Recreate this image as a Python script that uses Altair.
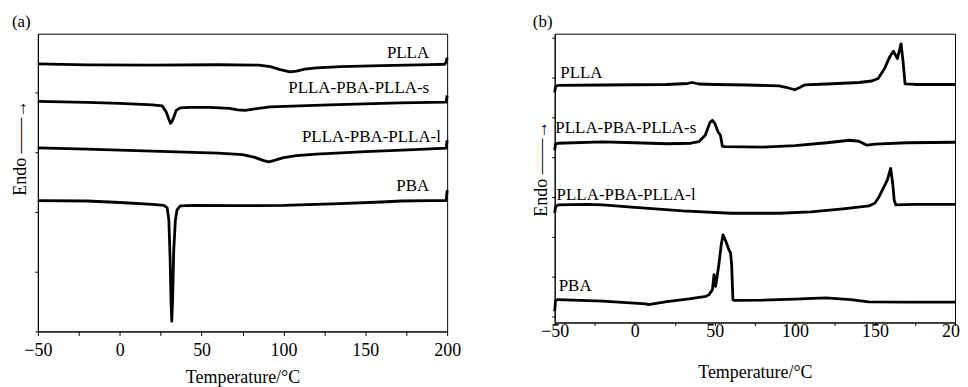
import altair as alt
import pandas as pd

FONT = "Liberation Serif"

# ---------------- Panel (a) ----------------
a_plla_T = [-50, -20, 20, 60, 85, 92, 98, 104, 108, 113, 120, 135, 160, 190, 198.5, 199.5, 200]
a_plla_v = [268.7, 267.7, 267.5, 267.8, 267.5, 266, 263, 260.7, 261.5, 263.5, 264.7, 266, 267, 268, 268.3, 271, 275]

a_s_T = [-50, -20, 0, 20, 26, 28.5, 30, 31, 32, 33, 34.5, 37, 43, 55, 67, 72, 76.5, 82.6, 91.7, 128, 171, 199.4, 200]
a_s_v = [231, 230, 229, 227.5, 226.5, 220, 213, 209, 211, 215, 222, 224.5, 225, 225, 224, 222.5, 222, 223.5, 225.5, 227.5, 229.5, 230.3, 237]

a_l_T = [-50, -20, 20, 60, 75, 82, 88, 91, 95, 100, 108, 120, 150, 180, 199.4, 200]
a_l_v = [184.3, 183, 181, 179, 177.5, 175, 171.5, 170.3, 172, 174.5, 176.5, 178, 180.5, 182.5, 184, 192]

a_pba_T = [-50, -20, 0, 20, 27, 29, 30, 30.8, 31.3, 31.8, 32.3, 33, 34, 35, 37, 45, 70, 100, 130, 160, 172, 190, 199.4, 200]
a_pba_v = [131.3, 131, 129.5, 127.5, 126.5, 124, 112, 72, 32, 10.3, 32, 82, 112, 122, 126, 126.5, 126.3, 126.5, 128, 130, 131, 131.3, 131.5, 142]

a_label_text = ["PLLA", "PLLA-PBA-PLLA-s", "PLLA-PBA-PLLA-l", "PBA"]
a_label_T = [189, 189, 196.2, 189]
a_label_v = [274.7, 239.3, 190.3, 141.3]

# ---------------- Panel (b) ----------------
b_plla_T = [-50, -49.5, -48, -20, 20, 33, 36, 40, 50, 70, 90, 96, 100, 103, 106, 120, 140, 148, 152, 156, 159, 161.5, 164, 166.3, 167.5, 168.8, 175, 200]
b_plla_v = [231, 237, 238, 238.5, 239, 240, 241, 239.5, 239, 238.5, 237.5, 235.5, 233.7, 236, 238.5, 239.5, 241, 242.5, 245, 255, 266, 272.5, 265, 279.7, 263, 239.7, 239, 239]

b_s_T = [-50, -49.5, -48, -20, 0, 20, 35, 40, 44, 47, 48.5, 50, 52, 53.5, 54.7, 56, 80, 100, 120, 134, 140, 145, 150, 170, 200]
b_s_v = [173, 179, 180, 181.3, 180.5, 179.5, 180, 181.5, 188, 201, 203, 200, 191.3, 188, 177, 176.5, 176, 177.5, 180.5, 183, 182, 178, 179, 180.5, 181]

b_l_T = [-50, -49.5, -48, -30, -20, 0, 30, 60, 90, 110, 130, 146.3, 150, 152.5, 154.6, 157.7, 159.8, 161.2, 162, 163, 175, 200]
b_l_v = [110, 116, 118, 118.5, 118, 115.5, 112, 109.7, 109.7, 111, 114, 117, 120, 126, 133, 143, 154.7, 138, 123, 118, 118.5, 118.7]

b_pba_T = [-50, -49.5, -48, -20, 7, 8.5, 20, 34, 44.5, 46.4, 48.5, 49.5, 50.5, 52.5, 54, 55.1, 56.5, 58.8, 59.8, 60.5, 61.3, 62, 80, 100, 119, 135, 146, 170, 200]
b_pba_v = [11.3, 22, 23, 21.5, 18.7, 18, 21, 23.7, 26.3, 28, 33, 48, 36.3, 58, 78, 88, 83, 73, 70, 58, 23, 22.3, 22.5, 23.5, 24.7, 23, 20.7, 20.5, 20.5]

b_label_text = ["PLLA", "PLLA-PBA-PLLA-s", "PLLA-PBA-PLLA-l", "PBA"]
b_label_T = [-46.5, -49.6, -48.8, -47.5]
b_label_v = [245.7, 190.3, 123, 31.3]

x_ticks = [-50, -25, 0, 25, 50, 75, 100, 125, 150, 175, 200]


def curves_df(series):
    rows = []
    for name, T, v in series:
        for i, (t, val) in enumerate(zip(T, v)):
            rows.append({"series": name, "i": i, "T": t, "v": val})
    return pd.DataFrame(rows)


def panel(series, lab_text, lab_T, lab_v, align, width, height, ymax, yvals,
          title, title_offset, ytitle_x, ytitle_y, tick_size, label_pad, title_pad):
    df = curves_df(series)
    ldf = pd.DataFrame({"name": lab_text, "T": lab_T, "v": lab_v})
    xs = alt.Scale(domain=[-50, 200], nice=False, zero=False)
    ys = alt.Scale(domain=[0, ymax], nice=False, zero=False)
    xaxis = alt.Axis(values=x_ticks, labelExpr="datum.value % 50 == 0 ? datum.label : ''",
                     title="Temperature/°C", tickSize=tick_size, labelPadding=label_pad,
                     titlePadding=title_pad, grid=False, labelFlush=False)
    yaxis = alt.Axis(labels=False, values=yvals, title="Endo ——→", titleX=ytitle_x,
                     titleY=ytitle_y, titleAngle=270, titleAlign="center",
                     titleBaseline="middle", tickSize=3, grid=False)
    lines = alt.Chart(df).mark_line(color="black", strokeWidth=2.8, strokeJoin="round").encode(
        x=alt.X("T:Q", scale=xs, axis=xaxis),
        y=alt.Y("v:Q", scale=ys, axis=yaxis),
        detail="series:N",
        order="i:Q",
    )
    texts = alt.Chart(ldf).mark_text(align=align, baseline="alphabetic", font=FONT,
                                     fontSize=17, color="black").encode(
        x=alt.X("T:Q", scale=xs),
        y=alt.Y("v:Q", scale=ys),
        text="name:N",
    )
    return alt.layer(lines, texts).properties(
        width=width, height=height,
        title=alt.TitleParams(title, anchor="start", fontSize=17, font=FONT,
                              fontWeight="normal", offset=title_offset, color="black"),
    )


pa = panel(
    [("PLLA", a_plla_T, a_plla_v), ("PLLA-PBA-PLLA-s", a_s_T, a_s_v),
     ("PLLA-PBA-PLLA-l", a_l_T, a_l_v), ("PBA", a_pba_T, a_pba_v)],
    a_label_text, a_label_T, a_label_v, "right", 411, 299, 299,
    list(range(0, 300, 15)), "(a)", 3, -17, 114, 4, 6, 9,
)
pb = panel(
    [("PLLA", b_plla_T, b_plla_v), ("PLLA-PBA-PLLA-s", b_s_T, b_s_v),
     ("PLLA-PBA-PLLA-l", b_l_T, b_l_v), ("PBA", b_pba_T, b_pba_v)],
    b_label_text, b_label_T, b_label_v, "left", 402, 290, 290,
    list(range(6, 290, 40)), "(b)", 3, -13, 135, 3, -3, 23,
)

chart = alt.concat(pa, pb, columns=2, spacing=71, align="none").configure(
    padding={"left": 3, "top": 3, "right": -9, "bottom": 3},
).configure_view(
    stroke="black", strokeWidth=1,
).configure_axis(
    labelFont=FONT, labelFontSize=18, labelColor="black",
    titleFont=FONT, titleFontSize=18, titleFontWeight="normal", titleColor="black",
    domainColor="black", tickColor="black",
)

chart.save("out.html", embed_options={"renderer": "svg", "actions": False})
